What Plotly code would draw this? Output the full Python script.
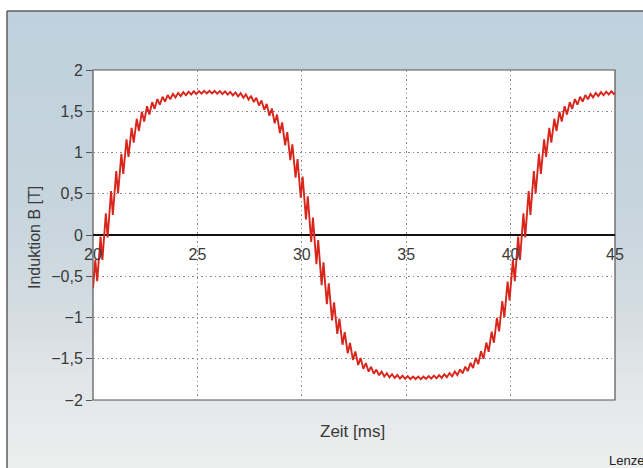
import plotly.graph_objects as go

# ---------------- data ----------------
t_ms = [
    20.000, 20.110, 20.200, 20.363, 20.450, 20.615, 20.700, 20.865, 20.950, 21.113,
    21.200, 21.359, 21.450, 21.605, 21.700, 21.850, 21.950, 22.095, 22.200, 22.341,
    22.450, 22.588, 22.700, 22.835, 22.950, 23.082, 23.200, 23.330, 23.450, 23.579,
    23.700, 23.828, 23.950, 24.077, 24.200, 24.327, 24.450, 24.576, 24.700, 24.826,
    24.950, 25.076, 25.200, 25.325, 25.450, 25.575, 25.700, 25.825, 25.950, 26.075,
    26.200, 26.324, 26.450, 26.574, 26.700, 26.824, 26.950, 27.073, 27.200, 27.323,
    27.450, 27.572, 27.700, 27.821, 27.950, 28.069, 28.200, 28.317, 28.450, 28.565,
    28.700, 28.812, 28.950, 29.058, 29.200, 29.304, 29.450, 29.549, 29.700, 29.795,
    29.950, 30.040, 30.200, 30.287, 30.450, 30.535, 30.700, 30.785, 30.950, 31.037,
    31.200, 31.291, 31.450, 31.545, 31.700, 31.800, 31.950, 32.055, 32.200, 32.309,
    32.450, 32.563, 32.700, 32.816, 32.950, 33.068, 33.200, 33.320, 33.450, 33.571,
    33.700, 33.822, 33.950, 34.073, 34.200, 34.323, 34.450, 34.574, 34.700, 34.824,
    34.950, 35.074, 35.200, 35.325, 35.450, 35.575, 35.700, 35.825, 35.950, 36.076,
    36.200, 36.326, 36.450, 36.576, 36.700, 36.826, 36.950, 37.077, 37.200, 37.327,
    37.450, 37.578, 37.700, 37.829, 37.950, 38.081, 38.200, 38.333, 38.450, 38.585,
    38.700, 38.838, 38.950, 39.092, 39.200, 39.346, 39.450, 39.601, 39.700, 39.856,
    39.950, 40.110, 40.200, 40.363, 40.450, 40.615, 40.700, 40.865, 40.950, 41.113,
    41.200, 41.359, 41.450, 41.605, 41.700, 41.850, 41.950, 42.095, 42.200, 42.341,
    42.450, 42.588, 42.700, 42.835, 42.950, 43.082, 43.200, 43.330, 43.450, 43.579,
    43.700, 43.828, 43.950, 44.077, 44.200, 44.327, 44.450, 44.576, 44.700, 44.826,
    44.950, 45.000,
]

b_T = [
    -0.640, -0.301, -0.560, -0.020, -0.302, 0.263, -0.030, 0.533, 0.243, 0.776,
    0.503, 0.985, 0.740, 1.159, 0.946, 1.299, 1.120, 1.409, 1.261, 1.495,
    1.374, 1.561, 1.461, 1.610, 1.529, 1.648, 1.579, 1.675, 1.618, 1.696,
    1.646, 1.711, 1.667, 1.723, 1.683, 1.731, 1.694, 1.737, 1.703, 1.742,
    1.709, 1.745, 1.714, 1.747, 1.717, 1.748, 1.716, 1.746, 1.713, 1.744,
    1.708, 1.740, 1.701, 1.734, 1.692, 1.728, 1.680, 1.718, 1.663, 1.705,
    1.641, 1.687, 1.611, 1.663, 1.570, 1.631, 1.517, 1.589, 1.446, 1.533,
    1.354, 1.460, 1.236, 1.365, 1.088, 1.246, 0.908, 1.098, 0.695, 0.919,
    0.453, 0.709, 0.189, 0.470, -0.085, 0.210, -0.355, -0.062, -0.609, -0.332,
    -0.838, -0.587, -1.034, -0.817, -1.198, -1.014, -1.330, -1.178, -1.434, -1.309,
    -1.514, -1.412, -1.575, -1.491, -1.622, -1.552, -1.656, -1.597, -1.682, -1.631,
    -1.701, -1.656, -1.715, -1.675, -1.726, -1.688, -1.733, -1.698, -1.739, -1.706,
    -1.743, -1.711, -1.746, -1.715, -1.748, -1.717, -1.748, -1.715, -1.745, -1.711,
    -1.742, -1.705, -1.738, -1.698, -1.732, -1.688, -1.724, -1.674, -1.713, -1.655,
    -1.698, -1.630, -1.677, -1.596, -1.650, -1.550, -1.613, -1.489, -1.564, -1.409,
    -1.500, -1.304, -1.415, -1.171, -1.306, -1.004, -1.168, -0.802, -0.998, -0.566,
    -0.794, -0.301, -0.560, -0.020, -0.302, 0.263, -0.030, 0.533, 0.243, 0.776,
    0.503, 0.985, 0.740, 1.159, 0.946, 1.299, 1.120, 1.409, 1.261, 1.495,
    1.374, 1.561, 1.461, 1.610, 1.529, 1.648, 1.579, 1.675, 1.618, 1.696,
    1.646, 1.711, 1.667, 1.723, 1.683, 1.731, 1.694, 1.737, 1.703, 1.742,
    1.709, 1.723,
]

x_tick_vals = [20, 25, 30, 35, 40, 45]
x_tick_text = ["20", "25", "30", "35", "40", "45"]
y_tick_vals = [-2, -1.5, -1, -0.5, 0, 0.5, 1, 1.5, 2]
y_tick_text = ["\u22122", "\u22121,5", "\u22121", "\u22120,5", "0", "0,5", "1", "1,5", "2"]

x_title = "Zeit [ms]"
y_title = "Induktion B [T]"
credit = "Lenze"

# ---------------- layout geometry / styling ----------------
W, H = 643, 468
ML, MR, MT, MB = 93, 28, 70, 68
PW = W - ML - MR
PH = H - MT - MB
FONT = "Liberation Sans, Arial, Helvetica, sans-serif"
TXT = "#3a3a3a"


def px_x(px):
    return (px - ML) / PW


def px_y(py):
    return (H - MB - py) / PH


# background gradient stops (pixel row, rgb)
stops = [(11, (192, 209, 221)), (200, (198, 212, 221)), (300, (210, 219, 225)),
         (380, (226, 230, 232)), (468, (237, 238, 238))]


def grad(py):
    for (y0, c0), (y1, c1) in zip(stops[:-1], stops[1:]):
        if y0 <= py <= y1:
            f = (py - y0) / (y1 - y0)
            return "rgb(%d,%d,%d)" % tuple(round(a + (b - a) * f) for a, b in zip(c0, c1))
    return "rgb(%d,%d,%d)" % stops[-1][1]


shapes = []
step = 4
y = 11
while y < H:
    y2 = min(y + step, H)
    shapes.append(dict(type="rect", xref="paper", yref="paper", layer="below",
                       x0=px_x(7), x1=px_x(W), y0=px_y(y2), y1=px_y(y),
                       fillcolor=grad((y + y2) / 2), line=dict(width=0)))
    y = y2

# outer frame (left + top)
shapes.append(dict(type="line", xref="paper", yref="paper", layer="below",
                   x0=px_x(7), x1=px_x(7), y0=px_y(H), y1=px_y(11),
                   line=dict(color="#5c5c5c", width=1.5)))
shapes.append(dict(type="line", xref="paper", yref="paper", layer="below",
                   x0=px_x(7), x1=px_x(W), y0=px_y(11), y1=px_y(11),
                   line=dict(color="#5c5c5c", width=1.5)))
# plot area
shapes.append(dict(type="rect", xref="paper", yref="paper", layer="below",
                   x0=0, x1=1, y0=0, y1=1, fillcolor="white",
                   line=dict(color="#555555", width=1.2)))

fig = go.Figure()
fig.add_trace(go.Scatter(x=t_ms, y=b_T, mode="lines",
                         line=dict(color="#d8261c", width=1.9),
                         hoverinfo="skip", showlegend=False))

fig.update_layout(
    width=W, height=H,
    margin=dict(l=ML, r=MR, t=MT, b=MB, pad=0),
    paper_bgcolor="white", plot_bgcolor="white",
    font=dict(family=FONT, color=TXT, size=16),
    shapes=shapes,
    showlegend=False,
    xaxis=dict(range=[20, 45], tickvals=x_tick_vals, ticktext=x_tick_text,
               anchor="free", position=0.5, showline=False, zeroline=False,
               showgrid=True, gridcolor="#8a8a8a", gridwidth=1, griddash="1.5px,3px",
               ticks="outside", ticklen=5, tickcolor="rgba(0,0,0,0)",
               tickfont=dict(size=16, color=TXT, family=FONT),
               fixedrange=True),
    yaxis=dict(range=[-2, 2], tickvals=y_tick_vals, ticktext=y_tick_text,
               showline=False, zeroline=True, zerolinecolor="#111111", zerolinewidth=1.8,
               showgrid=True, gridcolor="#8a8a8a", gridwidth=1, griddash="1.5px,3px",
               ticks="outside", ticklen=6, tickcolor="#555555", tickwidth=1,
               tickfont=dict(size=16, color=TXT, family=FONT), fixedrange=True),
    annotations=[
        dict(text=y_title, xref="paper", yref="paper", x=px_x(35), y=px_y(238),
             xanchor="center", yanchor="middle", textangle=-90, showarrow=False,
             font=dict(size=16, color=TXT, family=FONT)),
        dict(text=x_title, xref="paper", yref="paper", x=px_x(352), y=px_y(431),
             xanchor="center", yanchor="middle", showarrow=False,
             font=dict(size=17, color=TXT, family=FONT)),
        dict(text=credit, xref="paper", yref="paper", x=px_x(607), y=px_y(460),
             xanchor="left", yanchor="middle", showarrow=False,
             font=dict(size=13, color="#222222", family=FONT)),
    ],
)

fig.write_html("out.html", config={"displayModeBar": False},
               post_script="document.body.style.margin='0px';document.body.style.overflow='hidden';")
